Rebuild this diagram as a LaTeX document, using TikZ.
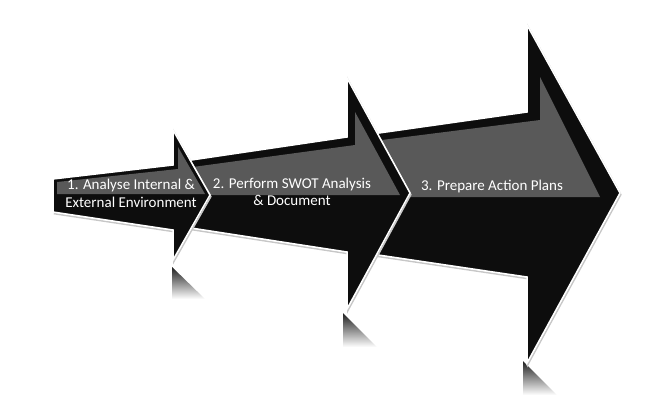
\documentclass[tikz,border=0pt]{standalone}
\usepackage{fontspec}
\setmainfont{Carlito}
\definecolor{arrowblack}{HTML}{0D0D0D}
\definecolor{arrowgray}{HTML}{595959}
\begin{document}
\begin{tikzpicture}[x=1pt,y=-1pt,
  body/.style={fill=arrowblack, draw=white, line width=1.5pt, line join=miter},
  shadowline/.style={draw=black!22, line width=1.6pt, line join=miter},
  gloss/.style={fill=arrowgray, draw=none},
  steplabel/.style={text=white, font=\fontsize{15}{17.5}\selectfont, align=center, inner sep=0pt},
  refl/.style={top color=black!88, bottom color=white, draw=none}]
\useasboundingbox (0,0) rectangle (672,418);

% ---------- reflections ----------
\shade[refl] (172,267) -- (205,299) -- (172,299) -- cycle;
\shade[refl] (343,313) -- (377,347) -- (343,347) -- cycle;
\shade[refl] (523,361) -- (557,395) -- (523,395) -- cycle;

% ---------- arrow 3 (back) ----------
\draw[shadowline, shift={(0.8,1.6)}] (358,136) -- (527,112) -- (527,25) -- (620,193) -- (527,363) -- (527,277) -- (358,252);
\draw[body] (358,136) -- (527,112) -- (527,25) -- (620,193) -- (527,363) -- (527,277) -- (358,252) -- cycle;
\fill[gloss] (358,143) -- (540,120) -- (540,77) -- (600,197) -- (358,197) -- cycle;
\node[steplabel] (t3) at (492,186) {3. Prepare Action Plans};

% ---------- arrow 2 (middle) ----------
\draw[shadowline, shift={(0.8,1.6)}] (178,162) -- (347,137) -- (347,78) -- (410,193) -- (347,309) -- (347,252) -- (178,226);
\draw[body] (178,162) -- (347,137) -- (347,78) -- (410,193) -- (347,309) -- (347,252) -- (178,226) -- cycle;
\fill[gloss] (178,169) -- (355,145) -- (355,112) -- (400,195) -- (178,195) -- cycle;
\node[steplabel] (t2) at (292,192) {2. Perform SWOT Analysis\\\& Document};

% ---------- arrow 1 (front) ----------
\draw[shadowline, shift={(0.8,1.6)}] (173,165) -- (173,130) -- (210,195) -- (173,260) -- (173,230) -- (53,212);
\draw[body] (53,179) -- (173,165) -- (173,130) -- (210,195) -- (173,260) -- (173,230) -- (53,212) -- cycle;
\fill[gloss] (57,182) -- (178,169) -- (178,147) -- (205,194) -- (57,194) -- cycle;
\node[steplabel] (t1) at (131,193.5) {1. Analyse Internal \&\\External Environment};
\end{tikzpicture}
\end{document}
